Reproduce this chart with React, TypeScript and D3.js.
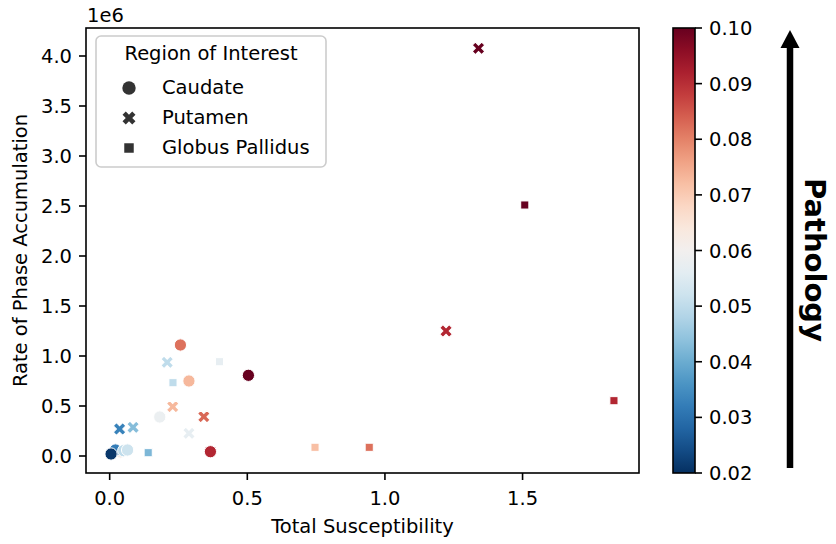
import React from "react";
import * as d3 from "d3";

// values (x: total susceptibility, y: rate in 1e6, c: pathology)
const caudateX = [0.04, 0.021, 0.005, 0.051, 0.065, 0.182, 0.257, 0.288, 0.504, 0.366];
const caudateY = [0.04, 0.06, 0.02, 0.053, 0.06, 0.39, 1.11, 0.75, 0.807, 0.043];
const caudateC = [0.062, 0.032, 0.021, 0.05, 0.052, 0.058, 0.082, 0.073, 0.1, 0.091];

const putamenX = [0.036, 0.085, 0.209, 0.229, 0.342, 0.288, 1.34, 1.222];
const putamenY = [0.27, 0.287, 0.937, 0.493, 0.393, 0.227, 4.077, 1.25];
const putamenC = [0.033, 0.043, 0.05, 0.073, 0.083, 0.057, 0.1, 0.091];

const pallidusX = [0.14, 0.23, 0.399, 0.746, 0.943, 1.508, 1.832];
const pallidusY = [0.033, 0.733, 0.943, 0.087, 0.087, 2.51, 0.553];
const pallidusC = [0.042, 0.05, 0.057, 0.072, 0.082, 0.1, 0.091];

const regions = ["Caudate", "Putamen", "Globus Pallidus"];
const xTicks = [0, 0.5, 1.0, 1.5];
const yTicks = [0, 0.5, 1.0, 1.5, 2.0, 2.5, 3.0, 3.5, 4.0];
const cTicks = [0.02, 0.03, 0.04, 0.05, 0.06, 0.07, 0.08, 0.09, 0.1];

const FONT = "DejaVu Sans";
const W = 836;
const H = 544;
const m = { left: 86, right: 639, top: 28, bottom: 473 };

const x = d3.scaleLinear().domain([-0.086, 1.923]).range([m.left, m.right]);
const y = d3.scaleLinear().domain([-0.17, 4.28]).range([m.bottom, m.top]);
const color = d3
  .scaleSequential((t: number) => d3.interpolateRdBu(1 - t))
  .domain([0.02, 0.1]);
const cbar = d3.scaleLinear().domain([0.02, 0.1]).range([m.bottom, m.top]);

const circlePath = d3.symbol(d3.symbolCircle, 118)() as string;
const crossPath = d3.symbol(d3.symbolCross, 98)() as string;
const squarePath = d3.symbol(d3.symbolSquare, 66)() as string;

const shapes: Record<string, { d: string; rot: number }> = {
  Caudate: { d: circlePath, rot: 0 },
  Putamen: { d: crossPath, rot: 45 },
  "Globus Pallidus": { d: squarePath, rot: 0 },
};

const zip = (xs: number[], ys: number[], cs: number[], region: string) =>
  xs.map((v, i) => ({ x: v, y: ys[i], c: cs[i], region }));

const points = [
  ...zip(caudateX, caudateY, caudateC, "Caudate"),
  ...zip(putamenX, putamenY, putamenC, "Putamen"),
  ...zip(pallidusX, pallidusY, pallidusC, "Globus Pallidus"),
];

const cbX0 = 673;
const cbX1 = 695;
const gradStops = d3.range(0, 1.0001, 0.05);

export default function App() {
  return (
    <svg
      width={W}
      height={H}
      style={{ position: "absolute", left: 0, top: 0, background: "#fff" }}
      fontFamily={FONT}
    >
      <defs>
        <linearGradient id="cb" x1="0" y1="1" x2="0" y2="0">
          {gradStops.map((t) => (
            <stop key={t} offset={t} stopColor={color(0.02 + t * 0.08)} />
          ))}
        </linearGradient>
      </defs>

      {/* points */}
      <g>
        {points.map((p, i) => (
          <path
            key={i}
            d={shapes[p.region].d}
            transform={`translate(${x(p.x)},${y(p.y)}) rotate(${shapes[p.region].rot})`}
            fill={color(p.c)}
            stroke="#fff"
            strokeWidth={1}
          />
        ))}
      </g>

      {/* frame */}
      <rect
        x={m.left}
        y={m.top}
        width={m.right - m.left}
        height={m.bottom - m.top}
        fill="none"
        stroke="#000"
        strokeWidth={1.6}
      />

      {/* x axis */}
      {xTicks.map((t) => (
        <g key={t} transform={`translate(${x(t)},${m.bottom})`}>
          <line y2={7} stroke="#000" strokeWidth={1.6} />
          <text y={32} textAnchor="middle" fontSize={19.5} fill="#000">
            {d3.format(".1f")(t)}
          </text>
        </g>
      ))}
      <text
        x={(m.left + m.right) / 2}
        y={533}
        textAnchor="middle"
        fontSize={19.5}
        fill="#000"
      >
        Total Susceptibility
      </text>

      {/* y axis */}
      {yTicks.map((t) => (
        <g key={t} transform={`translate(${m.left},${y(t)})`}>
          <line x2={-7} stroke="#000" strokeWidth={1.6} />
          <text x={-14} dy="0.36em" textAnchor="end" fontSize={19.5} fill="#000">
            {d3.format(".1f")(t)}
          </text>
        </g>
      ))}
      <text x={87} y={22} fontSize={19.5} fill="#000">
        1e6
      </text>
      <text
        transform={`translate(27,${(m.top + m.bottom) / 2}) rotate(-90)`}
        textAnchor="middle"
        fontSize={19.5}
        fill="#000"
      >
        Rate of Phase Accumulation
      </text>

      {/* legend */}
      <g>
        <rect
          x={96}
          y={36}
          width={230}
          height={131}
          rx={5}
          fill="#fff"
          fillOpacity={0.8}
          stroke="#ccc"
          strokeWidth={1.6}
        />
        <text x={211} y={60} textAnchor="middle" fontSize={19.5} fill="#000">
          Region of Interest
        </text>
        {regions.map((r, i) => (
          <g key={r} transform={`translate(0,${87 + i * 30})`}>
            <path
              d={
                r === "Caudate"
                  ? (d3.symbol(d3.symbolCircle, 140)() as string)
                  : r === "Putamen"
                  ? (d3.symbol(d3.symbolCross, 105)() as string)
                  : (d3.symbol(d3.symbolSquare, 90)() as string)
              }
              transform={`translate(129,1) rotate(${shapes[r].rot})`}
              fill="#333"
            />
            <text x={162} y={6.5} fontSize={19.5} fill="#000">
              {r}
            </text>
          </g>
        ))}
      </g>

      {/* colorbar */}
      <rect
        x={cbX0}
        y={m.top}
        width={cbX1 - cbX0}
        height={m.bottom - m.top}
        fill="url(#cb)"
        stroke="#000"
        strokeWidth={1.6}
      />
      {cTicks.map((t) => (
        <g key={t} transform={`translate(${cbX1},${cbar(t)})`}>
          <line x2={7} stroke="#000" strokeWidth={1.6} />
          <text x={14} dy="0.36em" fontSize={19.5} fill="#000">
            {d3.format(".2f")(t)}
          </text>
        </g>
      ))}

      {/* pathology arrow */}
      <line x1={790} x2={790} y1={468} y2={46} stroke="#000" strokeWidth={6.5} />
      <path d="M790,30 L799.5,48 L780.5,48 Z" fill="#000" />
      <text
        transform={`translate(805,260) rotate(90)`}
        textAnchor="middle"
        fontSize={29}
        fontWeight="bold"
        fill="#000"
      >
        Pathology
      </text>
    </svg>
  );
}
